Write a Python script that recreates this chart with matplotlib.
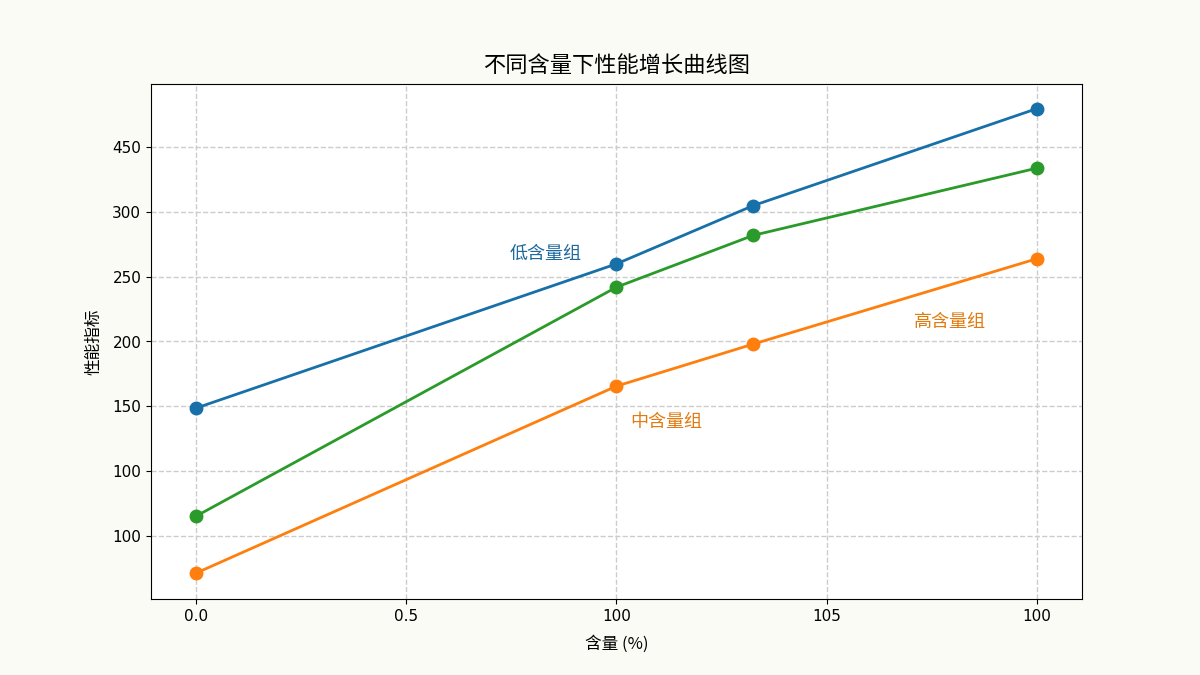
import matplotlib
matplotlib.use("Agg")
import matplotlib.pyplot as plt

plt.rcParams['font.family'] = ['Noto Sans CJK SC', 'DejaVu Sans']
plt.rcParams['axes.unicode_minus'] = False

# Data (positions on the axis scale)
x_low = [0.0, 1.0, 1.325, 2.0]
y_low = [148.5, 260, 305, 380]
x_mid = [0.0, 1.0, 1.325, 2.0]
y_mid = [65, 242, 282, 334]
x_high = [0.0, 1.0, 1.325, 2.0]
y_high = [21, 165.5, 198, 264]

xtick_pos = [0.0, 0.5, 1.0, 1.5, 2.0]
xtick_labels = ['0.0', '0.5', '100', '105', '100']
ytick_pos = [50, 100, 150, 200, 250, 300, 350]
ytick_labels = ['100', '100', '150', '200', '250', '300', '450']

c_blue = '#1870a8'
c_green = '#2a9a2a'
c_orange = '#ff7f0e'

fig = plt.figure(figsize=(12, 6.75), dpi=100, facecolor='#fbfbf6')
ax = fig.add_axes([151/1200, 1-599/675, (1082-151)/1200, (599-84)/675])
ax.set_facecolor('white')

ax.plot(x_low, y_low, '-o', color=c_blue, lw=2, ms=9, zorder=3)
ax.plot(x_mid, y_mid, '-o', color=c_green, lw=2, ms=9, zorder=3)
ax.plot(x_high, y_high, '-o', color=c_orange, lw=2, ms=9, zorder=3)

ax.text(0.832, 267.5, '低含量组', color='#1f6a9c', fontsize=13, ha='center', va='center')
ax.text(1.118, 137.6, '中含量组', color='#e07b10', fontsize=13, ha='center', va='center')
ax.text(1.793, 215, '高含量组', color='#e07b10', fontsize=13, ha='center', va='center')

ax.set_xlim(-0.107, 2.107)
ax.set_ylim(1, 399)
ax.set_xticks(xtick_pos)
ax.set_xticklabels(xtick_labels, fontfamily='DejaVu Sans')
ax.set_yticks(ytick_pos)
ax.set_yticklabels(ytick_labels, fontfamily='DejaVu Sans')
ax.tick_params(labelsize=11)
ax.grid(True, linestyle='--', color='#cccccc', lw=1)
ax.set_axisbelow(True)

ax.set_title('不同含量下性能增长曲线图', fontsize=16, pad=9)
ax.set_xlabel('含量 (%)', fontsize=12, labelpad=8)
ax.set_ylabel('性能指标', fontsize=12, labelpad=7)

fig.savefig('out.png', dpi=100, facecolor=fig.get_facecolor())
